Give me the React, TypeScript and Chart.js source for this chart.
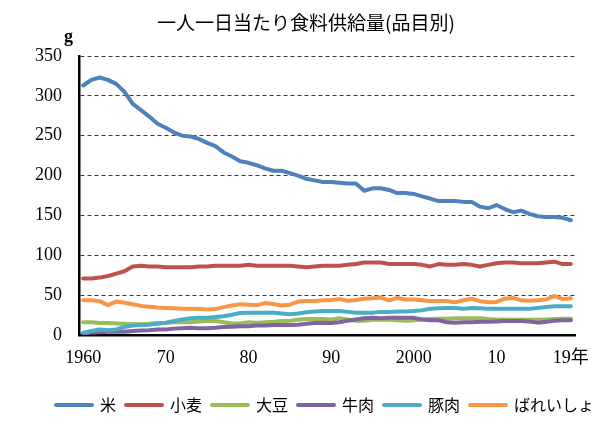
import React, { useEffect, useRef } from "react";
import { Chart, registerables } from "chart.js";

Chart.register(...registerables);

const TITLE = "一人一日当たり食料供給量(品目別)";
const UNIT_LABEL = "g";

const YEARS = [
  1960, 1961, 1962, 1963, 1964, 1965, 1966, 1967, 1968, 1969,
  1970, 1971, 1972, 1973, 1974, 1975, 1976, 1977, 1978, 1979,
  1980, 1981, 1982, 1983, 1984, 1985, 1986, 1987, 1988, 1989,
  1990, 1991, 1992, 1993, 1994, 1995, 1996, 1997, 1998, 1999,
  2000, 2001, 2002, 2003, 2004, 2005, 2006, 2007, 2008, 2009,
  2010, 2011, 2012, 2013, 2014, 2015, 2016, 2017, 2018, 2019,
];

const X_TICK_LABELS: Record<number, string> = {
  1960: "1960",
  1970: "70",
  1980: "80",
  1990: "90",
  2000: "2000",
  2010: "10",
  2019: "19年",
};

const Y_MIN = 0;
const Y_MAX = 350;
const Y_STEP = 50;

const SERIES_NAMES = ["米", "小麦", "大豆", "牛肉", "豚肉", "ばれいしょ"];
const SERIES_COLORS = ["#4F81BD", "#C0504D", "#9BBB59", "#8064A2", "#4BACC6", "#F79646"];

const RICE = [
  313, 320, 323, 320, 315, 305, 290, 282, 274, 265,
  260, 254, 250, 249, 246, 241, 237, 229, 224, 218,
  216, 213, 209, 206, 206, 203, 200, 196, 194, 192,
  192, 191, 190, 190, 181, 184, 184, 182, 178, 178,
  177, 174, 171, 168, 168, 168, 167, 167, 161, 159,
  163, 158, 154, 156, 152, 149, 148, 148, 147, 144,
];

const WHEAT = [
  71, 71, 72, 74, 77, 80, 86, 87, 86, 86,
  85, 85, 85, 85, 86, 86, 87, 87, 87, 87,
  88, 87, 87, 87, 87, 87, 86, 85, 86, 87,
  87, 87, 88, 89, 91, 91, 91, 89, 89, 89,
  89, 88, 86, 89, 88, 88, 89, 88, 86, 88,
  90, 91, 91, 90, 90, 90, 91, 92, 89, 89,
];

const SOYBEAN = [
  16, 16, 15, 15, 14.5, 14, 13.5, 13.5, 14, 15,
  15, 16, 16, 16, 17, 17.5, 17.5, 16, 14.5, 14.5,
  16, 15.5, 16, 16.5, 17.5, 18, 19, 20, 20, 20,
  19.5, 21, 19.5, 18, 18, 19, 19, 19, 18.5, 18,
  18.5, 19.5, 20, 20.5, 20.5, 21, 21, 21, 21, 20,
  19.5, 19.5, 19, 19, 19, 19, 19.5, 20, 20.5, 20.5,
];

const BEEF = [
  2, 3, 3.5, 4, 4, 4, 5, 5.5, 6, 7,
  7, 8, 8.5, 9, 8.5, 8.5, 9, 10, 10.5, 11,
  11, 12, 12, 12.5, 12.5, 12.5, 13, 14, 15, 15.5,
  15, 16, 18, 19.5, 21, 21.5, 21, 21.5, 21.5, 21.5,
  21.5, 19.5, 18.5, 18.5, 16, 15.5, 16, 16, 16.5, 16.5,
  17, 17.5, 17.5, 17.5, 17, 15.5, 16.5, 18, 18.5, 18.5,
];

const PORK = [
  3, 5, 7, 6, 7, 10, 12, 12.5, 13, 14,
  15.5, 17.5, 19.5, 21, 21.5, 21.5, 22.5, 23.5, 25.5, 27.5,
  28, 28, 28, 28, 27, 26, 27, 28.5, 29.5, 30,
  30, 30, 29, 28, 28, 28, 29, 29, 29.5, 29.5,
  30, 31, 33, 33.5, 34, 34, 33, 34, 33.5, 33,
  33, 33, 33, 33, 33, 34, 35, 36, 36, 36,
];

const POTATO = [
  43.5, 43.5, 42.5, 37.5, 42, 40.5, 38.5, 36.5, 35.5, 34.5,
  34, 33.5, 33, 33, 32.5, 32, 32.5, 35, 37, 38.5,
  38, 37.5, 40, 39, 37, 38, 42, 42.5, 42.5, 43.5,
  44, 45, 43, 44, 45.5, 46, 47, 43.5, 46.5, 44.5,
  44.5, 43.5, 42.5, 42.5, 42.5, 41, 43.5, 45.5, 42.5, 41,
  41.5, 45.5, 46.5, 43.5, 43, 43.5, 44.5, 49, 45, 46,
];

const SERIES = [RICE, WHEAT, SOYBEAN, BEEF, PORK, POTATO];

const SERIF = "'Liberation Serif', 'Times New Roman', 'Noto Sans CJK JP', serif";
const GOTHIC = "'Noto Sans CJK JP', 'Noto Sans', sans-serif";

export default function App() {
  const canvasRef = useRef<HTMLCanvasElement | null>(null);

  useEffect(() => {
    const canvas = canvasRef.current;
    if (!canvas) return;

    const datasets = SERIES.map((values, i) => ({
      label: SERIES_NAMES[i],
      data: values,
      borderColor: SERIES_COLORS[i],
      backgroundColor: SERIES_COLORS[i],
      borderWidth: 4,
      borderCapStyle: "round" as const,
      borderJoinStyle: "round" as const,
      pointRadius: 0,
      pointHoverRadius: 0,
      tension: 0,
      fill: false,
      order: SERIES.length - 1 - i,
    }));

    const chart = new Chart(canvas, {
      type: "line",
      data: {
        labels: YEARS.map(String),
        datasets,
      },
      options: {
        responsive: false,
        animation: false,
        layout: { padding: { left: 30, right: -8, top: 56, bottom: 9 } },
        plugins: {
          title: { display: false },
          tooltip: { enabled: false },
          legend: {
            display: true,
            position: "bottom",
            align: "center",
            labels: {
              usePointStyle: true,
              pointStyleWidth: 36,
              padding: 10,
              color: "#000",
              font: { family: GOTHIC, size: 16 },
              sort: (a: any, b: any) => a.datasetIndex - b.datasetIndex,
              generateLabels: (c: any) => {
                const items = (Chart.defaults.plugins.legend.labels as any).generateLabels(c);
                return items.map((it: any) => ({
                  ...it,
                  pointStyle: "line",
                  lineWidth: 4,
                  lineCap: "round",
                  strokeStyle: SERIES_COLORS[it.datasetIndex],
                  fillStyle: SERIES_COLORS[it.datasetIndex],
                }));
              },
            },
          },
        },
        scales: {
          x: {
            type: "category",
            offset: true,
            grid: { display: false, drawTicks: false },
            border: { display: true, color: "#000", width: 2.5 },
            ticks: {
              autoSkip: false,
              maxRotation: 0,
              minRotation: 0,
              padding: 12,
              color: "#000",
              font: { family: SERIF, size: 18 },
              callback: (_v: any, i: number) => X_TICK_LABELS[YEARS[i]] ?? "",
            },
            afterFit: (s: any) => {
              s.height = 52;
            },
          },
          y: {
            min: Y_MIN,
            max: Y_MAX,
            grid: { color: "#3a3a3a", lineWidth: 1, drawTicks: false },
            border: { display: true, color: "#000", width: 2.5, dash: [4, 3] },
            ticks: {
              stepSize: Y_STEP,
              padding: 17,
              color: "#000",
              font: { family: SERIF, size: 18 },
            },
            afterFit: (s: any) => {
              s.width = 49;
            },
          },
          yRight: {
            position: "right",
            display: true,
            grid: { display: false, drawTicks: false },
            border: { display: false },
            ticks: { display: false },
            afterFit: (s: any) => {
              s.width = 45;
            },
          },
        },
      },
    });

    return () => chart.destroy();
  }, []);

  return (
    <div
      style={{
        position: "absolute",
        left: 0,
        top: 0,
        width: 612,
        height: 432,
        background: "#fff",
        overflow: "hidden",
      }}
    >
      <canvas ref={canvasRef} width={612} height={432} style={{ display: "block" }} />
      <div
        style={{
          position: "absolute",
          left: 0,
          top: 12,
          width: 612,
          textAlign: "center",
          fontFamily: GOTHIC,
          fontSize: 19,
          lineHeight: "20px",
          color: "#000",
          whiteSpace: "nowrap",
        }}
      >
        {TITLE}
      </div>
      <div
        style={{
          position: "absolute",
          left: 64,
          top: 27,
          fontFamily: SERIF,
          fontSize: 18,
          fontWeight: "bold",
          lineHeight: "18px",
          color: "#000",
        }}
      >
        {UNIT_LABEL}
      </div>
    </div>
  );
}
